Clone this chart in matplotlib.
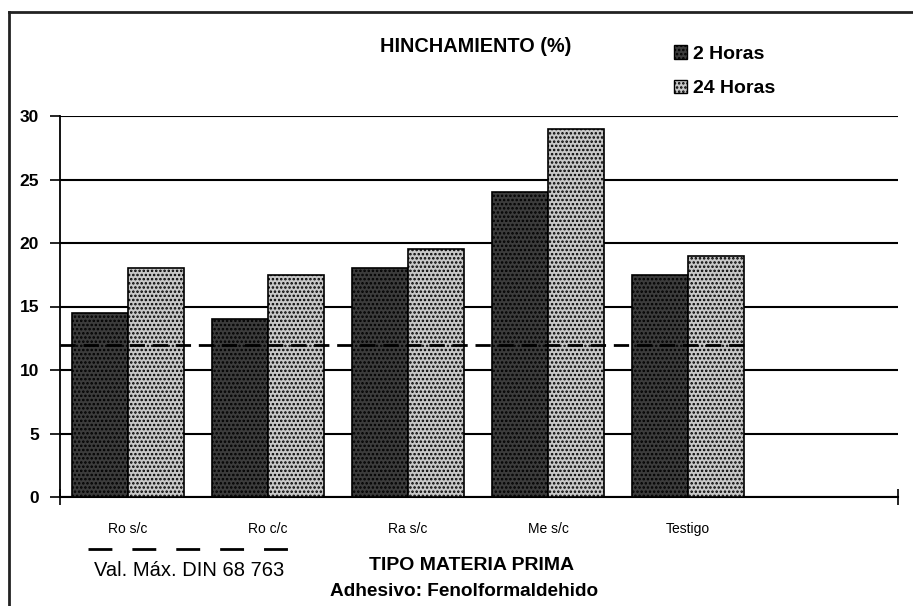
import matplotlib
matplotlib.use("Agg")
import matplotlib.pyplot as plt
import numpy as np
from matplotlib.patches import Patch
from matplotlib.lines import Line2D

categories = ["Ro s/c", "Ro c/c", "Ra s/c", "Me s/c", "Testigo"]
horas_2 = [14.5, 14.0, 18.0, 24.0, 17.5]
horas_24 = [18.0, 17.5, 19.5, 29.0, 19.0]
din_max = 12.0
yticks = [0, 5, 10, 15, 20, 25, 30]

plt.rcParams['font.family'] = ['Liberation Sans', 'DejaVu Sans']
plt.rcParams['hatch.linewidth'] = 1.2

W, H = 913, 606
fig = plt.figure(figsize=(W / 100, H / 100), dpi=100)
ax = fig.add_axes([60 / W, 1 - 497 / H, (898 - 60) / W, (497 - 116) / H])

x = np.arange(len(categories))
bw = 0.4
dark, light = '#3c3c3c', '#c8c8c8'
ax.bar(x - bw / 2, horas_2, bw, color=dark, edgecolor='black', hatch='....',
       linewidth=1.2, zorder=3, label='2 Horas')
ax.bar(x + bw / 2, horas_24, bw, color=light, edgecolor='black', hatch='....',
       linewidth=1.2, zorder=3, label='24 Horas')

xmin, xmax = -0.486, 5.5
ax.plot([xmin, x[-1] + bw], [din_max, din_max], color='black', lw=2,
        dashes=(5.5, 2.8), zorder=4)

ax.set_xlim(xmin, xmax)
ax.set_ylim(0, 30)
ax.set_yticks(yticks)
ax.set_yticklabels([str(v) for v in yticks], fontsize=12.5, fontweight='bold')
ax.yaxis.grid(True, color='black', lw=1.5, zorder=0)
ax.set_axisbelow(True)
ax.tick_params(axis='y', direction='out', length=7, width=1.2, pad=8)

ax.set_xticks(x)
ax.set_xticklabels(categories, fontsize=10)
ax.tick_params(axis='x', length=0, pad=18)
ax.set_xticks([xmin, xmax], minor=True)
ax.tick_params(axis='x', which='minor', direction='inout', length=12, width=1.2)

for s in ['top', 'right']:
    ax.spines[s].set_visible(False)
ax.spines['left'].set_linewidth(1.3)
ax.spines['bottom'].set_linewidth(1.5)

# figure border (left and top)
fig.add_artist(Line2D([9 / W, 9 / W], [0, 1 - 12 / H], transform=fig.transFigure,
                      color='#222222', lw=2))
fig.add_artist(Line2D([9 / W, 1], [1 - 12 / H, 1 - 12 / H], transform=fig.transFigure,
                      color='#222222', lw=2))

fig.text(380 / W, 1 - 46 / H, "HINCHAMIENTO (%)", fontsize=14.3, fontweight='bold',
         va='center', ha='left')

handles = [Patch(facecolor=dark, edgecolor='black', hatch='....', label='2 Horas'),
           Patch(facecolor=light, edgecolor='black', hatch='....', label='24 Horas')]
fig.legend(handles=handles, loc='upper left', bbox_to_anchor=(656 / W, 1 - 28 / H),
           frameon=False, prop={'weight': 'bold', 'size': 14},
           handlelength=0.7, handleheight=0.7, handletextpad=0.3, labelspacing=0.85)

# DIN legend
fig.add_artist(Line2D([88 / W, 288 / W], [1 - 549 / H, 1 - 549 / H],
                      transform=fig.transFigure, color='black', lw=2, dashes=(8.6, 7.2)))
fig.text(189 / W, 1 - 570 / H, "Val. Máx. DIN 68 763", fontsize=14.5,
         ha='center', va='center')
fig.text(472 / W, 1 - 565 / H, "TIPO MATERIA PRIMA", fontsize=14,
         fontweight='bold', ha='center', va='center')
fig.text(464 / W, 1 - 591 / H, "Adhesivo: Fenolformaldehido", fontsize=13.7,
         fontweight='bold', ha='center', va='center')

fig.savefig("out.png", dpi=100)
